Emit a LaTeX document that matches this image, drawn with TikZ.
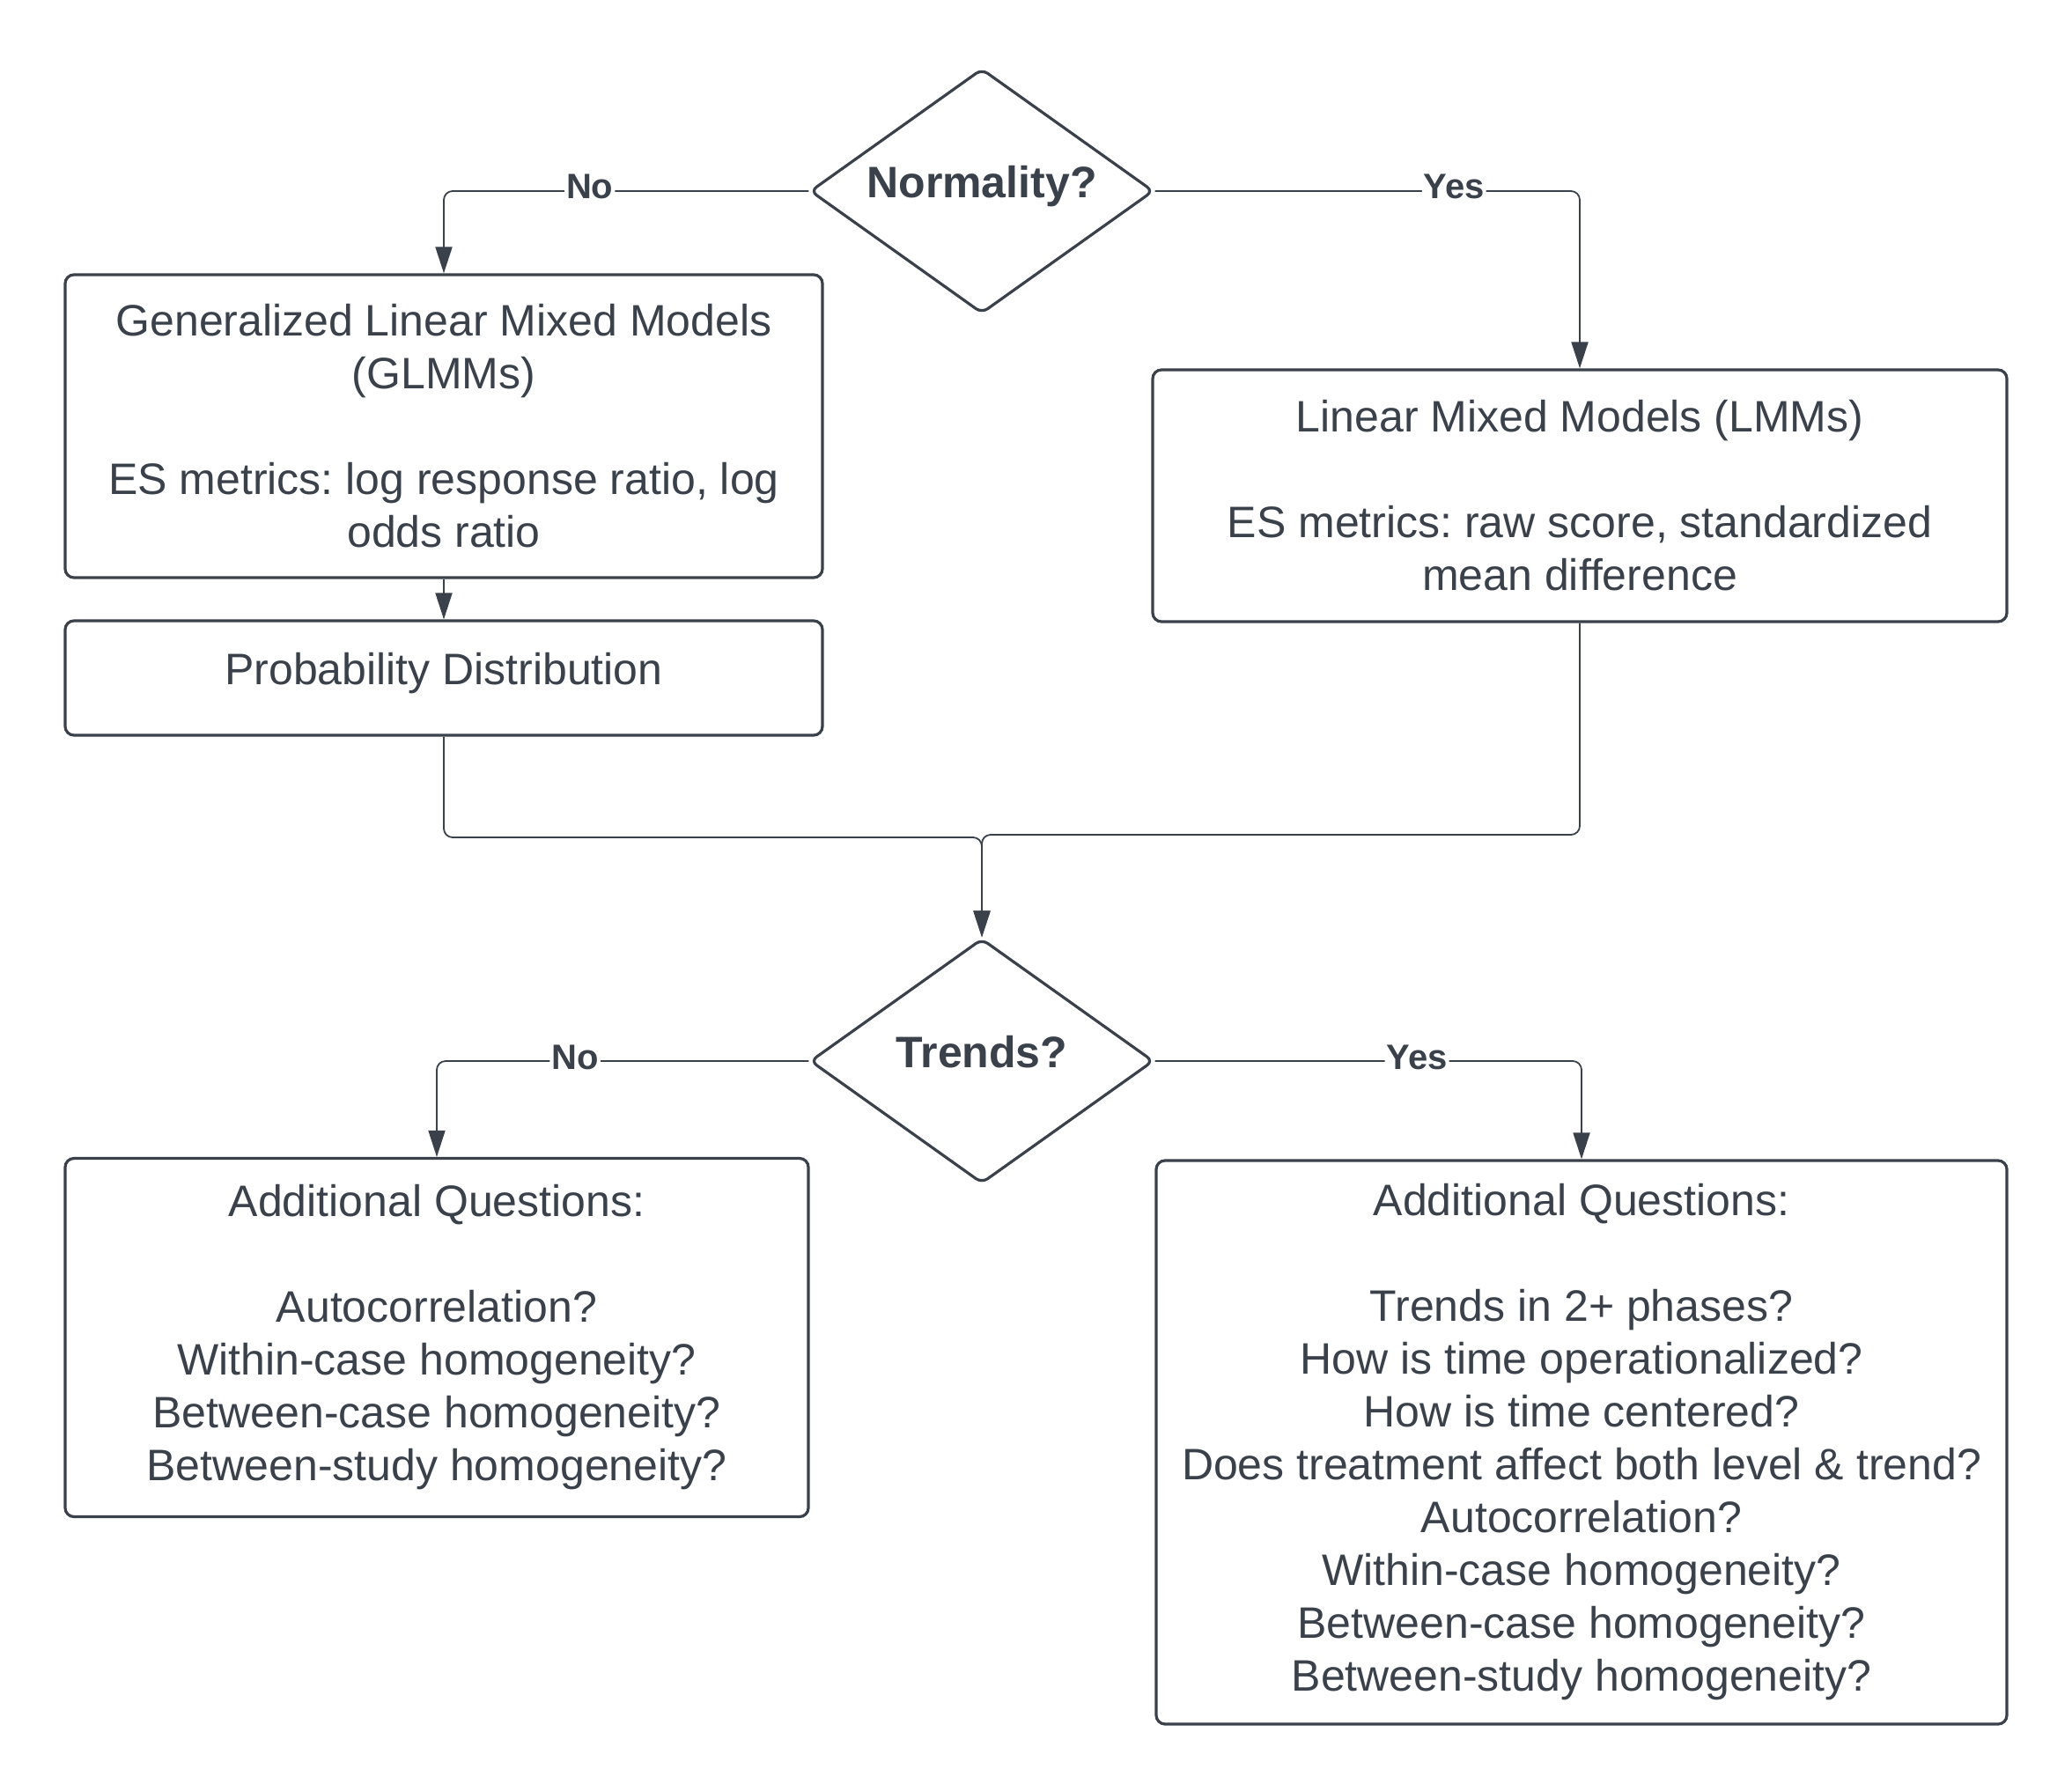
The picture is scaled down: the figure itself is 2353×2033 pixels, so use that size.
\documentclass[tikz,border=0pt]{standalone}
\usepackage{fontspec}
\setmainfont{Liberation Sans}
\usetikzlibrary{shapes.geometric,arrows.meta}
\definecolor{lucidgray}{RGB}{58,65,74}
\frenchspacing

\begin{document}
\begin{tikzpicture}[x=0.5pt,y=-0.5pt,
  box/.style={draw=lucidgray, line width=1.6pt, rounded corners=5pt, text=lucidgray, align=center, inner sep=0pt, font=\fontsize{25}{30}\selectfont},
  decision/.style={diamond, draw=lucidgray, line width=1.6pt, rounded corners=4pt, text=lucidgray, inner sep=0pt, minimum width=195pt, minimum height=139pt, aspect=1.4, font=\bfseries\fontsize{25}{30}\selectfont, text height=1.15em, text depth=.4em},
  flow/.style={draw=lucidgray, line width=0.9pt, rounded corners=5pt, -{Triangle[length=15pt,width=9.5pt]}},
  answer/.style={fill=white, text=lucidgray, inner sep=1pt, font=\bfseries\fontsize{20}{24}\selectfont, text height=1.2em, text depth=.3em}]
\useasboundingbox (0,0) rectangle (2353,2033);


%Decision: Normality
\node[decision] (normality) at (1115,217) {Normality?};

%Non-normal branch
\node[box, minimum width=430pt, minimum height=172pt] (glmm) at (504,484) {Generalized Linear Mixed Models\\(GLMMs)\\[30pt]ES metrics: log response ratio, log\\odds ratio};
\node[box, minimum width=430pt, minimum height=65pt, text height=1.1em, text depth=.4em] (prob) at (504,770) {Probability Distribution};

%Normal branch
\node[box, minimum width=485pt, minimum height=143pt] (lmm) at (1794,563) {Linear Mixed Models (LMMs)\\[30pt]ES metrics: raw score, standardized\\mean difference};


%Decision: Trends
\node[decision] (trends) at (1115,1205) {Trends?};

%Additional Questions
\node[box, minimum width=422pt, minimum height=203.5pt] (noquest) at (496,1519) {Additional Questions:\\[30pt]Autocorrelation?\\Within-case homogeneity?\\Between-case homogeneity?\\Between-study homogeneity?};
\node[box, minimum width=483pt, minimum height=320pt] (yesquest) at (1796,1638) {Additional Questions:\\[30pt]Trends in 2+ phases?\\How is time operationalized?\\How is time centered?\\Does treatment affect both level \& trend?\\Autocorrelation?\\Within-case homogeneity?\\Between-case homogeneity?\\Between-study homogeneity?};


%Connectors
\draw[flow] (normality.west) -| node[answer, pos=.30] {No} (glmm.north);
\draw[flow] (normality.east) -| node[answer, pos=.352] {Yes} (lmm.north);
\draw[flow] (glmm.south) -- (prob.north);

%Merge into Trends
\coordinate (joinL) at (1115,951);
\coordinate (joinR) at (1115,948);
\draw[flow] (prob.south) |- (joinL) -- (trends.north);
\draw[flow] (lmm.south) |- (joinR) -- (trends.north);

\draw[flow] (trends.west) -| node[answer, pos=.314] {No} (noquest.north);
\draw[flow] (trends.east) -| node[answer, pos=.307] {Yes} (yesquest.north);
%

\end{tikzpicture}
\end{document}
